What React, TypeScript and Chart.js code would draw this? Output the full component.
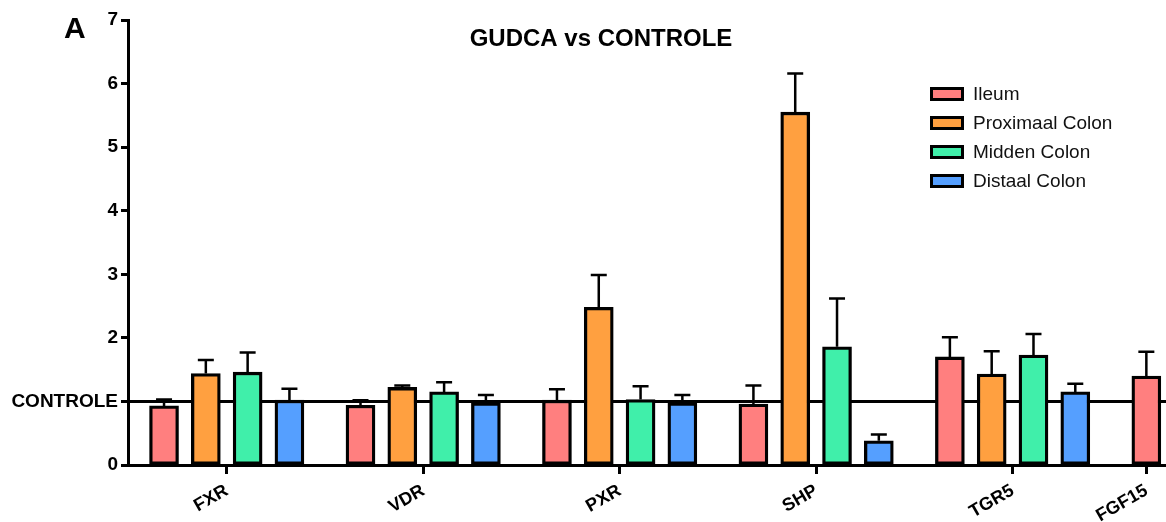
import { useEffect, useRef } from "react";
import { Chart, registerables } from "chart.js";

Chart.register(...registerables);

// Genes on the x axis
const genes = ["FXR", "VDR", "PXR", "SHP", "TGR5", "FGF15"];

// Tissue series
const seriesNames = ["Ileum", "Proximaal Colon", "Midden Colon", "Distaal Colon"];

// Relative expression (GUDCA vs control = 1)
const ileum = [0.93, 0.94, 1.02, 0.96, 1.7, 1.4];
const proximaal = [1.44, 1.22, 2.48, 5.55, 1.43, null];
const midden = [1.46, 1.15, 1.03, 1.86, 1.73, null];
const distaal = [1.02, 0.98, 0.98, 0.38, 1.15, null];

// Upper error (SEM)
const ileumErr = [0.1, 0.08, 0.17, 0.29, 0.31, 0.38];
const proximaalErr = [0.21, 0.03, 0.51, 0.61, 0.36, null];
const middenErr = [0.31, 0.15, 0.21, 0.76, 0.33, null];
const distaalErr = [0.18, 0.12, 0.12, 0.1, 0.13, null];

// y axis
const yTicks = [0, 1, 2, 3, 4, 5, 6, 7];
const controlLevel = 1;

const FONT = "'Liberation Sans', Arial, Helvetica, sans-serif";
const colors = ["#FF7F7F", "#FFA040", "#40EFAA", "#559FFF"];

// Layout of the grouped bars on a linear x axis (units = one bar slot)
const GROUP_PITCH = 4.7;
const X_MIN = -2.362;
const X_MAX = 22.47;
const slotX = (g: number, s: number) => g * GROUP_PITCH + (s - 1.5);

const seriesValues = [ileum, proximaal, midden, distaal];
const seriesErrors = [ileumErr, proximaalErr, middenErr, distaalErr];

// Tick under each gene: middle of the bars that are present
const tickPositions = genes.map((_, g) => {
  const xs: number[] = [];
  seriesValues.forEach((vals, s) => {
    if (vals[g] !== null) xs.push(slotX(g, s));
  });
  return (Math.min(...xs) + Math.max(...xs)) / 2;
});

const controlLinePlugin = {
  id: "controlLine",
  beforeDatasetsDraw(chart: any) {
    const { ctx, chartArea, scales } = chart;
    const py = scales.y.getPixelForValue(controlLevel);
    ctx.save();
    ctx.strokeStyle = "#000";
    ctx.lineWidth = 3;
    ctx.beginPath();
    ctx.moveTo(chartArea.left, py);
    ctx.lineTo(chartArea.right, py);
    ctx.stroke();
    ctx.restore();
  },
};

const errorBarPlugin = {
  id: "errorBars",
  afterDatasetsDraw(chart: any) {
    const { ctx, scales } = chart;
    chart.data.datasets.forEach((ds: any, i: number) => {
      const meta = chart.getDatasetMeta(i);
      meta.data.forEach((bar: any, k: number) => {
        const pt = ds.data[k];
        if (!pt || !pt.err) return;
        const top = scales.y.getPixelForValue(pt.y + pt.err);
        ctx.save();
        ctx.strokeStyle = "#000";
        ctx.lineWidth = 2.5;
        ctx.beginPath();
        ctx.moveTo(bar.x, bar.y);
        ctx.lineTo(bar.x, top);
        ctx.moveTo(bar.x - 8, top);
        ctx.lineTo(bar.x + 8, top);
        ctx.stroke();
        ctx.restore();
      });
    });
  },
};

const annotationPlugin = {
  id: "annotations",
  afterDraw(chart: any) {
    const { ctx } = chart;
    ctx.save();
    ctx.fillStyle = "#000";
    ctx.textBaseline = "alphabetic";
    ctx.textAlign = "left";
    ctx.font = `bold 30px ${FONT}`;
    ctx.fillText("A", 64, 38);

    ctx.textAlign = "center";
    ctx.textBaseline = "middle";
    ctx.font = `bold 24px ${FONT}`;
    ctx.fillText("GUDCA vs CONTROLE", 601, 39);

    // legend
    ctx.textAlign = "left";
    ctx.font = `19px ${FONT}`;
    seriesNames.forEach((name, i) => {
      const cy = 94 + i * 29;
      ctx.fillStyle = "#000";
      ctx.fillRect(930, cy - 7, 34, 14);
      ctx.fillStyle = colors[i];
      ctx.fillRect(933, cy - 4, 28, 8);
      ctx.fillStyle = "#111";
      ctx.fillText(name, 973, cy + 1);
    });
    ctx.restore();
  },
};

export default function App() {
  const canvasRef = useRef<HTMLCanvasElement | null>(null);

  useEffect(() => {
    if (!canvasRef.current) return;
    const datasets = seriesNames.map((name, s) => ({
      label: name,
      data: genes
        .map((_, g) => ({ x: slotX(g, s), y: seriesValues[s][g], err: seriesErrors[s][g] }))
        .filter((p) => p.y !== null),
      backgroundColor: colors[s],
      borderColor: "#000",
      borderWidth: 3.3,
      borderSkipped: false,
      barThickness: 29,
      grouped: false,
    }));

    const chart = new Chart(canvasRef.current, {
      type: "bar",
      data: { datasets: datasets as any },
      options: {
        animation: false,
        responsive: false,
        devicePixelRatio: 1,
        layout: { padding: { top: 20, left: 0, right: 0, bottom: 0 } },
        plugins: { legend: { display: false }, tooltip: { enabled: false }, title: { display: false } },
        scales: {
          x: {
            type: "linear",
            min: X_MIN,
            max: X_MAX,
            offset: false,
            afterBuildTicks: (scale: any) => {
              scale.ticks = tickPositions.map((v) => ({ value: v }));
            },
            afterFit: (scale: any) => {
              scale.height = 57;
              scale.paddingLeft = 0;
              scale.paddingRight = 0;
            },
            ticks: {
              autoSkip: false,
              minRotation: 30,
              maxRotation: 30,
              padding: 6,
              color: "#000",
              font: { family: FONT, size: 18, weight: "bold" },
              callback: (_v: any, i: number) => genes[i],
            },
            grid: {
              offset: false,
              drawOnChartArea: false,
              drawTicks: true,
              tickLength: 9,
              tickWidth: 3,
              tickColor: "#000",
            },
            border: { display: true, color: "#000", width: 3 },
          },
          y: {
            type: "linear",
            min: 0,
            max: 7,
            afterBuildTicks: (scale: any) => {
              scale.ticks = yTicks.map((v) => ({ value: v }));
            },
            afterFit: (scale: any) => {
              scale.width = 128;
              scale.paddingTop = 0;
              scale.paddingBottom = 0;
            },
            ticks: {
              padding: 3,
              color: "#000",
              font: { family: FONT, size: 19, weight: "bold" },
              callback: (v: any) => (v === controlLevel ? "CONTROLE" : String(v)),
            },
            grid: {
              drawOnChartArea: false,
              drawTicks: true,
              tickLength: 7,
              tickWidth: 3,
              tickColor: "#000",
            },
            border: { display: true, color: "#000", width: 3 },
          },
        },
      } as any,
      plugins: [controlLinePlugin, errorBarPlugin, annotationPlugin],
    });
    return () => chart.destroy();
  }, []);

  return (
    <div style={{ position: "absolute", left: 0, top: 0, width: 1166, height: 522 }}>
      <canvas ref={canvasRef} width={1166} height={522} style={{ display: "block" }} />
    </div>
  );
}
